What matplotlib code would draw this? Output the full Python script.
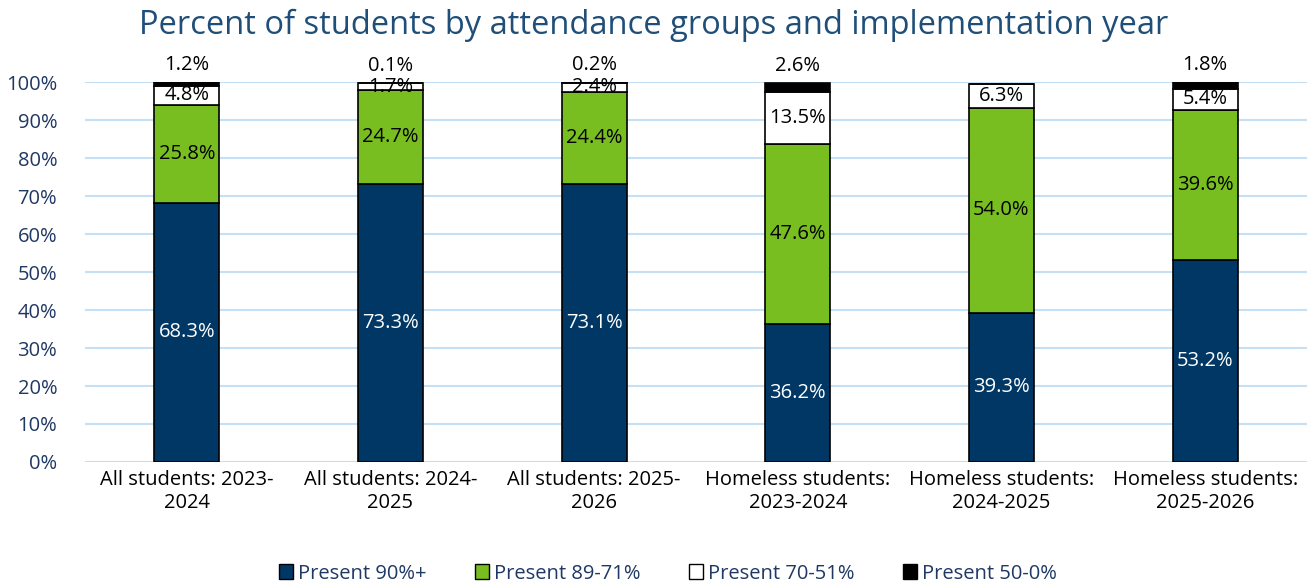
#!/usr/bin/env python3
"""
Stacked attendance-group bars by implementation year
"""
import matplotlib
matplotlib.use("Agg")
import matplotlib.pyplot as plt
from matplotlib.patches import Patch

plt.rcParams['font.family'] = ['Open Sans', 'DejaVu Sans']

categories = ["All students: 2023-\n2024", "All students: 2024-\n2025",
              "All students: 2025-\n2026", "Homeless students:\n2023-2024",
              "Homeless students:\n2024-2025", "Homeless students:\n2025-2026"]
present_90 = [68.3, 73.3, 73.1, 36.2, 39.3, 53.2]
present_89_71 = [25.8, 24.7, 24.4, 47.6, 54.0, 39.6]
present_70_51 = [4.8, 1.7, 2.4, 13.5, 6.3, 5.4]
present_50_0 = [1.2, 0.1, 0.2, 2.6, 0.0, 1.8]
series_names = ["Present 90%+", "Present 89-71%", "Present 70-51%", "Present 50-0%"]

navy = "#003764"
green = "#78BE20"
blue_text = "#1F3864"

fig = plt.figure(figsize=(13.07, 5.87), dpi=100)
ax = fig.add_axes([0.065, 0.213, 0.935, 0.647])

x = list(range(len(categories)))
width = 0.32
series = [present_90, present_89_71, present_70_51, present_50_0]
colors = [navy, green, "white", "black"]
bottoms = [0.0] * len(categories)
for vals, col in zip(series, colors):
    bars = ax.bar(x, vals, width, bottom=bottoms, color=col,
                  edgecolor="black", linewidth=1.2, zorder=3)
    if col == "black":
        for i, b in enumerate(bars):
            if vals[i] > 0:
                ax.text(i, bottoms[i] + vals[i] + 1.8, f"{vals[i]:.1f}%",
                        ha="center", va="bottom", fontsize=14.5, color="black")
    else:
        tc = "white" if col == navy else "black"
        for i, b in enumerate(bars):
            ax.text(i, bottoms[i] + vals[i] / 2, f"{vals[i]:.1f}%",
                    ha="center", va="center", fontsize=14.5, color=tc, zorder=4)
    bottoms = [b + v for b, v in zip(bottoms, vals)]

ax.set_ylim(0, 100)
ax.set_xlim(-0.5, 5.5)
ax.set_yticks(range(0, 101, 10))
ax.set_yticklabels([f"{t}%" for t in range(0, 101, 10)], color=blue_text, fontsize=14.5)
ax.set_xticks(x)
ax.set_xticklabels(categories, fontsize=14.5, color="black")
ax.tick_params(axis="y", length=0, pad=20)
ax.tick_params(axis="x", length=0, pad=6)
ax.yaxis.grid(True, color="#C5DFF5", linewidth=1.5, zorder=0)
ax.set_axisbelow(True)
for s in ax.spines.values():
    s.set_visible(False)

fig.suptitle("Percent of students by attendance groups and implementation year",
             fontsize=23.5, color="#1F4E79", y=0.985)

handles = [Patch(facecolor=c, edgecolor="black", label=n) for c, n in zip(colors, series_names)]
leg = fig.legend(handles=handles, loc="lower center", ncol=4, frameon=False,
                 bbox_to_anchor=(0.511, -0.025), fontsize=14.5, handlelength=0.7,
                 handleheight=0.7, handletextpad=0.25, columnspacing=2.4)
for t in leg.get_texts():
    t.set_color(blue_text)

fig.savefig("out.png", dpi=100)
